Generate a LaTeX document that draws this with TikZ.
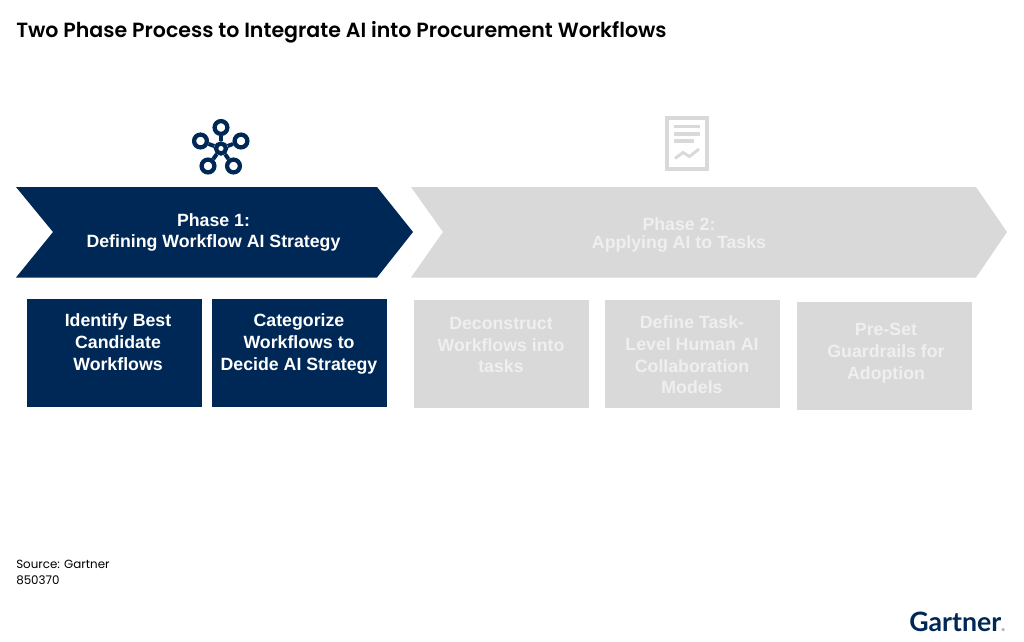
\documentclass[tikz,border=0pt]{standalone}
\usepackage{fontspec}
\setmainfont{Liberation Sans}
\newfontfamily\titlefont{Poppins SemiBold}
\newfontfamily\sourcefont{Poppins}
\newfontfamily\logofont{Lato}
\definecolor{navy}{HTML}{002856}
\definecolor{paleshape}{HTML}{D9D9D9}
\definecolor{paletext}{HTML}{EFEFEF}

\begin{document}
\begin{tikzpicture}[x=0.75pt,y=-0.75pt,
    bodytext/.style={font=\bfseries\fontsize{13.3}{16.3}\selectfont,align=center,inner sep=0pt},
    stepbox/.style={minimum width=131.25pt,minimum height=81pt,inner sep=0pt},
    bluebox/.style={stepbox,fill=navy},
    palebox/.style={stepbox,fill=paleshape},
    ring/.style={circle,draw=navy,line width=3.2pt,fill=white,inner sep=0pt,minimum size=9.6pt}]
      \useasboundingbox (0,0) rectangle (1024,642);

      % title and source
      \node[anchor=west,inner sep=0pt,font=\titlefont\fontsize{15.4}{16}\selectfont,text=black](title) at (16,32){Two Phase Process to Integrate AI into Procurement Workflows};
      \node[anchor=north west,inner sep=0pt,align=left,font=\sourcefont\fontsize{8.9}{11.9}\selectfont](source) at (16,560){Source: Gartner\\850370};

      % chevrons
      \fill[navy] (16,187) -- (377,187) -- (413,232) -- (377,277.5) -- (16,277.5) -- (53,232) -- cycle;
      \fill[paleshape] (411,187) -- (976,187) -- (1007,232) -- (976,277.5) -- (411,277.5) -- (443,232) -- cycle;
      \node[bodytext,text=white](phase1) at (213.5,232.5){Phase 1:\\Defining Workflow AI Strategy};
      \node[bodytext,font=\bfseries\fontsize{13.3}{13.8}\selectfont,text=paletext](phase2) at (679,235){Phase 2:\\Applying AI to Tasks};

      % boxes
      \node[bluebox](B1) at (114.5,353){};
      \node[bluebox](B2) at (299.5,353){};
      \node[palebox](G1) at (501.5,354){};
      \node[palebox](G2) at (692.5,354){};
      \node[palebox](G3) at (884.5,355.5){};

      \node[bodytext,text=white](T1) at (118,342){Identify Best\\Candidate\\Workflows};
      \node[bodytext,text=white](T2) at (299,344){Categorize\\Workflows to\\Decide AI Strategy};
      \node[bodytext,text=paletext](T3) at (501,345){Deconstruct\\Workflows into\\tasks};
      \node[bodytext,text=paletext](T4) at (692,355){Define Task-\\Level Human AI\\Collaboration\\Models};
      \node[bodytext,text=paletext](T5) at (886,353){Pre-Set\\Guardrails for\\Adoption};

      % network icon
      \foreach \name/\x/\y in {N1/221/127.5,N2/200.5/141,N3/241/141,N4/208/166,N5/233.5/166} {
        \node[ring](\name) at (\x,\y){};
      }
      \node[ring,minimum size=7.5pt](N0) at (221,148.5){};
      \foreach \name in {N1,N2,N3,N4,N5} {
        \draw[navy,line width=3pt] (N0) -- (\name);
      }

      % document icon
      \draw[paleshape,line width=3pt] (667,118) rectangle (707,169);
      \foreach \y/\xend in {126.5/700,134/700,141/694} {
        \draw[paleshape,line width=2.6pt] (674,\y) -- (\xend,\y);
      }
      \draw[paleshape,line width=2.2pt] (675,158.5) -- (683,152.5) -- (689.5,156.5) -- (699,149);

      % logo
      \node[anchor=base west,inner sep=0pt,font=\logofont\bfseries\fontsize{20}{22}\selectfont,text=navy](logo) at (909,631){Gartner};
      \node[anchor=base west,inner sep=0pt,font=\fontsize{3}{3}\selectfont,text=navy](mark) at (logo.base east){®};
    \end{tikzpicture}
\end{document}
